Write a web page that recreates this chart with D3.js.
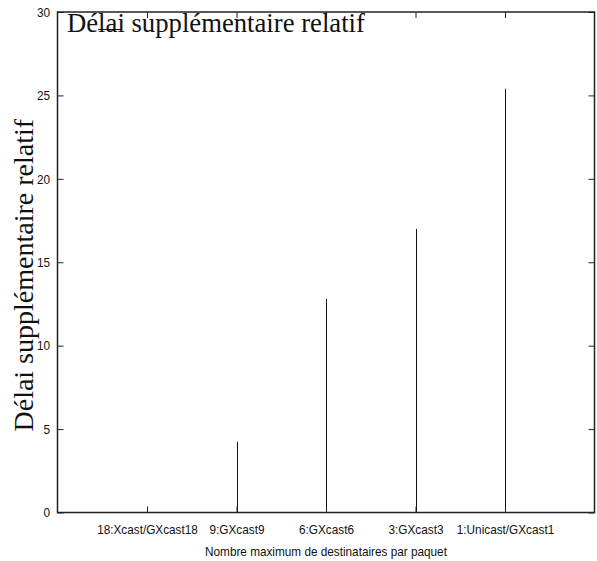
<!DOCTYPE html>
<html><head><meta charset="utf-8">
<script src="https://cdn.jsdelivr.net/npm/d3@7"></script>
<style>body{margin:0;background:#fff}svg{display:block}</style>
</head><body>
<svg id="c" width="597" height="561"></svg>
<script>
const categories = ["18:Xcast/GXcast18", "9:GXcast9", "6:GXcast6", "3:GXcast3", "1:Unicast/GXcast1"];
const values = [0, 4.24, 12.8, 17.0, 25.4];
const yTicks = [0, 5, 10, 15, 20, 25, 30];
const title = "Délai supplémentaire relatif";
const xTitle = "Nombre maximum de destinataires par paquet";

const svg = d3.select("#c");
const L = 57.5, R = 594.5, T = 12, B = 512.5;
const x = d3.scaleLinear().domain([0, categories.length + 1]).range([L, R]);
const y = d3.scaleLinear().domain([0, 30]).range([B, T]);
const sans = "'Liberation Sans', Arial, sans-serif";
const serif = "'Liberation Serif', 'Times New Roman', serif";

// impulses
svg.append("g").selectAll("line").data(values).join("line")
  .attr("x1", (d, i) => Math.round(x(i + 1)) + 0.5).attr("x2", (d, i) => Math.round(x(i + 1)) + 0.5)
  .attr("y1", y(0)).attr("y2", d => y(d))
  .attr("stroke", "#111").attr("stroke-width", 1);

// axes
const tl = 6;
const gL = svg.append("g").attr("transform", `translate(${L},0)`).call(d3.axisLeft(y).tickValues(yTicks).tickSizeInner(-tl).tickSizeOuter(0).tickPadding(7.5));
const gR = svg.append("g").attr("transform", `translate(${R},0)`).call(d3.axisRight(y).tickValues(yTicks).tickSizeInner(-tl).tickSizeOuter(0).tickFormat(""));
const xb = d3.axisBottom(x).tickValues(d3.range(1, categories.length + 1)).tickFormat(i => categories[i - 1]).tickSizeInner(-tl).tickSizeOuter(0).tickPadding(21.5);
const gB = svg.append("g").attr("transform", `translate(0,${B})`).call(xb);
const gT = svg.append("g").attr("transform", `translate(0,${T})`).call(d3.axisTop(x).tickValues(d3.range(1, categories.length + 1)).tickSizeInner(-tl).tickSizeOuter(0).tickFormat(""));
[gL, gR, gB, gT].forEach(g => {
  g.select(".domain").remove();
  g.selectAll(".tick line").attr("stroke", "#222").attr("stroke-width", 1);
  g.selectAll("text").attr("font-family", sans).attr("font-size", 12).attr("fill", "#111");
});
gB.selectAll("text").attr("dy", "0");

// narrow-looking labels: larger size, condensed to the reference width
function condense(sel, size, ratio) {
  sel.each(function () {
    const t = d3.select(this);
    const w = this.getComputedTextLength();
    t.attr("font-size", size).attr("textLength", w * ratio).attr("lengthAdjust", "spacingAndGlyphs");
  });
}
condense(gB.selectAll("text"), 13.5, 0.98);
condense(gL.selectAll("text"), 13.5, 0.98);

// border
svg.append("rect").attr("x", L).attr("y", T).attr("width", R - L).attr("height", B - T)
  .attr("fill", "none").attr("stroke", "#222").attr("stroke-width", 1.5);

// key / title
svg.append("text").attr("x", 67).attr("y", 32).attr("font-family", serif).attr("font-size", 26.7)
  .attr("fill", "#111").text(title);
svg.append("line").attr("x1", 98).attr("x2", 122).attr("y1", 29.5).attr("y2", 29.5)
  .attr("stroke", "#111").attr("stroke-width", 1);

// y label
svg.append("text").attr("transform", `translate(33,${(T + B) / 2 + 13}) rotate(-90)`)
  .attr("text-anchor", "middle").attr("font-family", serif).attr("font-size", 28).attr("fill", "#111")
  .text(title);

// x label
const xl = svg.append("text").attr("x", (L + R) / 2).attr("y", 556).attr("text-anchor", "middle")
  .attr("font-family", sans).attr("font-size", 12).attr("fill", "#111").text(xTitle);
condense(xl, 13.5, 0.98);
</script>
</body></html>
